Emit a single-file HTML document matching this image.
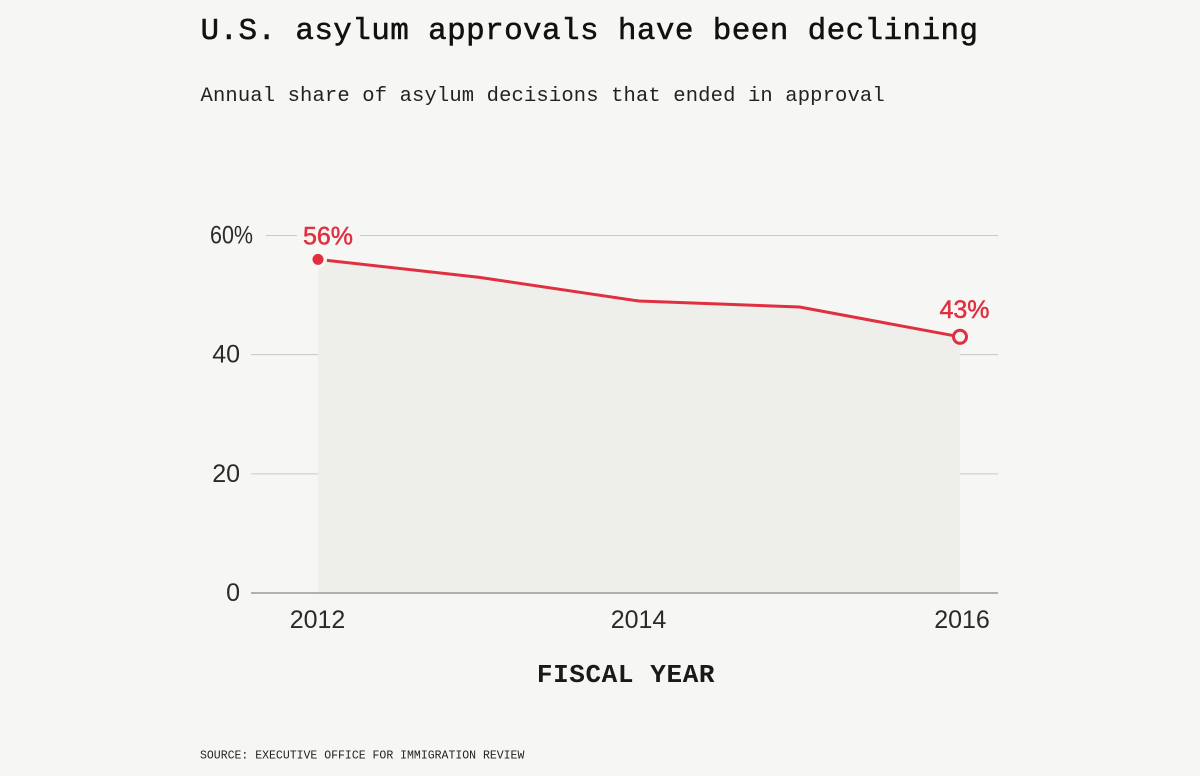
<!DOCTYPE html>
<html lang="en">
<head>
<meta charset="utf-8">
<title>U.S. asylum approvals have been declining</title>
<style>
html,body{margin:0;padding:0;background:#f6f6f4;}
#chart-root{position:relative;width:1200px;height:776px;overflow:hidden;background:#f6f6f4;}
svg{display:block;}
.mono{font-family:"Liberation Mono",monospace;}
.sans{font-family:"Liberation Sans",sans-serif;}
</style>
</head>
<body>
<div id="chart-root">
<svg id="chart" width="1200" height="776" viewBox="0 0 1200 776" xmlns="http://www.w3.org/2000/svg">
  <text class="mono" x="200.5" y="39" font-size="31" letter-spacing="0.37" font-weight="400" fill="#111" stroke="#111" stroke-width="0.5">U.S. asylum approvals have been declining</text>
  <text class="mono" x="200.5" y="101" font-size="20.5" letter-spacing="0.14" fill="#222">Annual share of asylum decisions that ended in approval</text>
  <g id="layer-grid"></g>
  <g id="layer-area"></g>
  <g id="layer-axis"></g>
  <g id="layer-line"></g>
  <g id="layer-labels"></g>
  <text class="mono" x="626" y="682" font-size="26" font-weight="700" letter-spacing="0.6" text-anchor="middle" fill="#1a1a1a">FISCAL YEAR</text>
  <text class="mono" x="200" y="758.5" font-size="11.5" letter-spacing="0" fill="#222">SOURCE: EXECUTIVE OFFICE FOR IMMIGRATION REVIEW</text>
</svg>
</div>
<script>
const years = [2012, 2013, 2014, 2015, 2016];
const approvalShare = [56, 53, 49, 48, 43];
const yTicks = [0, 20, 40, 60];
const yTickLabels = ['0', '20', '40', '60%'];
const xTicks = [2012, 2014, 2016];
const xTickLabels = ['2012', '2014', '2016'];

const BG = '#f6f6f4', RED = '#e03040', INK = '#2a2a2a';
const NS = 'http://www.w3.org/2000/svg';
const xScale = v => 318 + (v - 2012) * (960 - 318) / (2016 - 2012);
const yScale = v => 593 - v * (593 - 235.5) / 60;

function make(tag, parent, attrs, text) {
  const el = document.createElementNS(NS, tag);
  for (const k in attrs) el.setAttribute(k, attrs[k]);
  if (text !== undefined) el.textContent = text;
  parent.appendChild(el);
  return el;
}
const gridLayer = document.getElementById('layer-grid');
const areaLayer = document.getElementById('layer-area');
const axisLayer = document.getElementById('layer-axis');
const lineLayer = document.getElementById('layer-line');
const labelLayer = document.getElementById('layer-labels');

yTicks.forEach((t, i) => {
  if (t !== 0) {
    const g = make('line', gridLayer, {x1: 251, x2: 998, y1: yScale(t), y2: yScale(t), stroke: '#c9c9c7', 'stroke-width': 1});
    
    
  }
});

const areaPts = years.map((y, i) => xScale(y) + ',' + yScale(approvalShare[i]));
areaPts.push(xScale(years[years.length - 1]) + ',' + yScale(0));
areaPts.push(xScale(years[0]) + ',' + yScale(0));
const area = make('polygon', areaLayer, {points: areaPts.join(' '), fill: '#eeeeea'});



const baseline = make('line', axisLayer, {x1: 251, x2: 998, y1: yScale(0), y2: yScale(0), stroke: '#9a9a98', 'stroke-width': 1.5});



yTicks.forEach((t, i) => {
  const lab = make('text', labelLayer, {class: 'sans', x: 240, y: yScale(t) + 8, 'font-size': 25, 'text-anchor': 'end', fill: INK}, yTickLabels[i]);
  if (t === 60) {
    lab.setAttribute('text-anchor', 'start');
    lab.setAttribute('x', 210);
    lab.setAttribute('textLength', 43);
    lab.setAttribute('lengthAdjust', 'spacingAndGlyphs');
  }
  
  
});

xTicks.forEach((t, i) => {
  const nudge = t === 2016 ? 2 : -0.5;
  const lab = make('text', labelLayer, {class: 'sans', x: xScale(t) + nudge, y: 628, 'font-size': 25, 'text-anchor': 'middle', fill: INK}, xTickLabels[i]);
  
  
});

const linePath = make('polyline', lineLayer, {
  points: years.map((y, i) => xScale(y) + ',' + yScale(approvalShare[i])).join(' '),
  fill: 'none', stroke: RED, 'stroke-width': 3, 'stroke-linejoin': 'round'
});



const lastIdx = years.length - 1;
const startDot = make('circle', lineLayer, {cx: xScale(years[0]), cy: yScale(approvalShare[0]), r: 5.5, fill: RED, stroke: BG, 'stroke-width': 7, 'paint-order': 'stroke'});



const endDot = make('circle', lineLayer, {cx: xScale(years[lastIdx]), cy: yScale(approvalShare[lastIdx]), r: 6.5, fill: BG, stroke: RED, 'stroke-width': 3});



const startHalo = make('rect', labelLayer, {x: 297, y: yScale(60) - 12, width: 63, height: 24, fill: BG});



const startLabel = make('text', labelLayer, {class: 'sans', x: xScale(years[0]) + 10, y: yScale(approvalShare[0]) - 15, 'font-size': 25, 'text-anchor': 'middle', fill: RED, stroke: RED, 'stroke-width': 0.5}, approvalShare[0] + '%');



const endLabel = make('text', labelLayer, {class: 'sans', x: xScale(years[lastIdx]) + 4.5, y: yScale(approvalShare[lastIdx]) - 19, 'font-size': 25, 'text-anchor': 'middle', fill: RED, stroke: RED, 'stroke-width': 0.5}, approvalShare[lastIdx] + '%');



const tickHalo = make('rect', gridLayer, {x: 251, y: yScale(60) - 3, width: 15, height: 6, fill: BG});


</script>
</body>
</html>
